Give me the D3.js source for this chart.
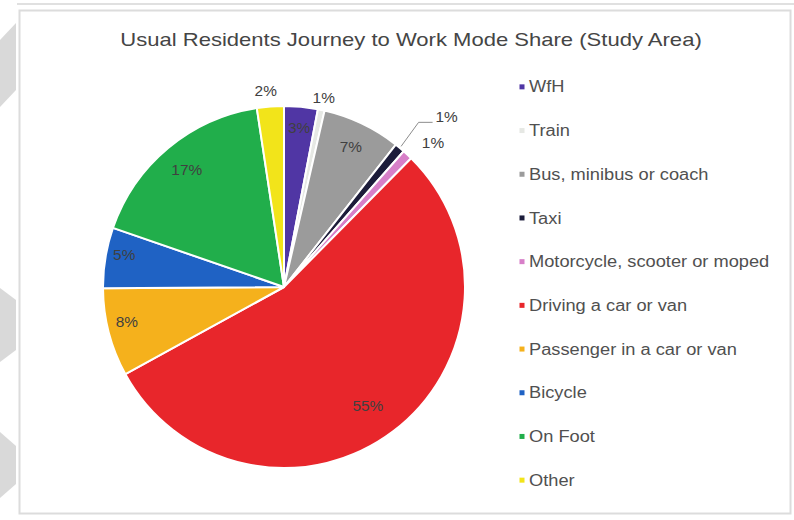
<!DOCTYPE html>
<html><head><meta charset="utf-8">
<script src="https://cdn.jsdelivr.net/npm/d3@7"></script>
<style>body{margin:0;background:#fff}svg{display:block}</style>
</head><body>
<svg id="chart" width="794" height="520"></svg>
<script>
const title = "Usual Residents Journey to Work Mode Share (Study Area)";
const categories = ["WfH","Train","Bus, minibus or coach","Taxi","Motorcycle, scooter or moped","Driving a car or van","Passenger in a car or van","Bicycle","On Foot","Other"];
const shares = [3.0, 0.6, 7.0, 0.9, 0.9, 54.6, 7.9, 5.4, 17.3, 2.4];
const labels = ["3%","1%","7%","1%","1%","55%","8%","5%","17%","2%"];
const colors = ["#5036a4","#e6e8e4","#9b9b9b","#1c1c3a","#d77fc8","#e8262b","#f5b11c","#1f62c4","#21ae4b","#f2e41a"];

const svg = d3.select("#chart");
const font = "'Liberation Sans', Arial, sans-serif";

// decorative background
const deco = [
  [[0,40],[16,23],[16,90],[0,107]],
  [[0,288],[16,300],[16,350],[0,362]],
  [[0,432],[16,446],[16,484],[0,498]]
];
svg.selectAll("polygon.deco").data(deco).join("polygon")
  .attr("class","deco").attr("points", d => d.map(p => p.join(",")).join(" "))
  .attr("fill","#d9d9d9");
svg.append("line").attr("x1",17).attr("x2",794).attr("y1",4).attr("y2",4)
  .attr("stroke","#e0e0e0").attr("stroke-width",2);
svg.append("rect").attr("x",19.5).attr("y",10.5).attr("width",771).attr("height",503)
  .attr("fill","#fff").attr("stroke","#dcdcdc").attr("stroke-width",2);

// title (stretched horizontally like the reference)
const stretch = 1.16;
const t = svg.append("text").attr("x",411).attr("y",46).attr("text-anchor","middle")
  .attr("font-family",font).attr("font-size",19).attr("fill","#454545").text(title);
t.attr("textLength", t.node().getComputedTextLength()*stretch).attr("lengthAdjust","spacingAndGlyphs");

// pie
const cx = 284, cy = 287, R = 181;
const data = categories.map((c,i) => ({cat:c, v:shares[i], label:labels[i], color:colors[i]}));
const pie = d3.pie().value(d => d.v).sort(null);
const arcs = pie(data);
const arc = d3.arc().innerRadius(0).outerRadius(R);
const g = svg.append("g").attr("transform",`translate(${cx},${cy})`);
g.selectAll("path").data(arcs).join("path")
  .attr("d", arc).attr("fill", d => d.data.color)
  .attr("stroke","#fff").attr("stroke-width",2).attr("stroke-linejoin","round");

// label layout (radius from centre, angle nudge in degrees)
const labelLayout = [
  {r:160, da:0}, {r:193, da:0}, {r:155, da:0}, {r:235, da:4}, {r:207, da:3},
  {r:146, da:2}, {r:161, da:2}, {r:163, da:2}, {r:152, da:0}, {r:197, da:-1}
];
function pos(a, r){ return [Math.sin(a)*r, -Math.cos(a)*r]; }
arcs.forEach((d,i) => {
  const mid = (d.startAngle + d.endAngle)/2 + labelLayout[i].da*Math.PI/180;
  const p = pos(mid, labelLayout[i].r);
  if (i === 3) {
    const a0 = (d.startAngle + d.endAngle)/2;
    const p0 = pos(a0, R+2);
    g.append("polyline")
      .attr("points", `${p0[0]},${p0[1]} ${p[0]-28},${p[1]+5} ${p[0]-14},${p[1]+5}`)
      .attr("fill","none").attr("stroke","#8c8c8c").attr("stroke-width",1);
  }
  const lt = g.append("text").attr("x",p[0]).attr("y",p[1]).attr("dy","0.35em")
    .attr("text-anchor","middle").attr("font-family",font).attr("font-size",14)
    .attr("fill","#404040").text(d.data.label);
  lt.attr("textLength", lt.node().getComputedTextLength()*1.1).attr("lengthAdjust","spacingAndGlyphs");
});

// legend
const ly = d3.scaleBand().domain(categories).range([65, 502]);
const leg = svg.append("g");
const rows = leg.selectAll("g").data(data).join("g")
  .attr("transform", d => `translate(522,${ly(d.cat)+ly.bandwidth()/2})`);
rows.append("rect").attr("x",-2.5).attr("y",-2.5).attr("width",5).attr("height",5)
  .attr("fill", d => d.color);
rows.append("text").attr("x",7).attr("dy","0.35em").attr("font-family",font)
  .attr("font-size",16).attr("fill","#505050").text(d => d.cat)
  .each(function(){ d3.select(this).attr("textLength", this.getComputedTextLength()*1.14).attr("lengthAdjust","spacingAndGlyphs"); });
</script>
</body></html>
